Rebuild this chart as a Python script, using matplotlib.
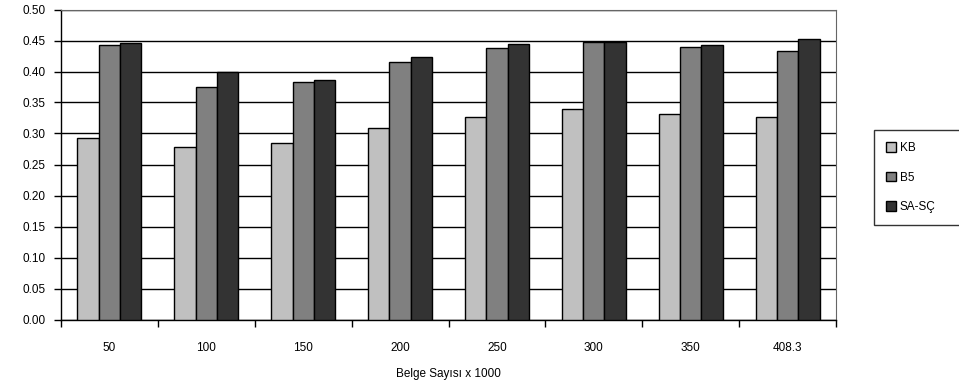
import numpy as np
import matplotlib.pyplot as plt
from matplotlib.patches import Patch

plt.rcParams['font.family'] = ['Liberation Sans', 'DejaVu Sans']

# belge sayisi (x1000) ve yontemlere gore sonuclar
belge_sayisi = ['50', '100', '150', '200', '250', '300', '350', '408.3']
kb = [0.293, 0.279, 0.285, 0.309, 0.326, 0.340, 0.331, 0.327]
b5 = [0.443, 0.375, 0.383, 0.416, 0.438, 0.447, 0.440, 0.433]
sa_sc = [0.446, 0.399, 0.386, 0.423, 0.445, 0.447, 0.443, 0.452]

seriler = ['KB', 'B5', 'SA-SÇ']
renkler = ['#c0c0c0', '#808080', '#333333']

fig = plt.figure(figsize=(9.59, 3.87), dpi=100)
ax = fig.add_axes([61 / 959, 67.5 / 387, 775 / 959, 310 / 387])

x = np.arange(len(belge_sayisi))
w = 0.22
for i, (vals, renk) in enumerate(zip([kb, b5, sa_sc], renkler)):
    ax.bar(x + (i - 1) * w, vals, w, color=renk, edgecolor='black',
           linewidth=1, zorder=3)

ax.set_xlim(-0.5, len(belge_sayisi) - 0.5)
ax.set_ylim(0, 0.5)
ax.set_yticks(np.arange(0, 0.51, 0.05))
ax.set_yticklabels([f'{v:.2f}' for v in np.arange(0, 0.51, 0.05)])
ax.yaxis.grid(True, color='black', linewidth=1, zorder=0)
ax.set_axisbelow(True)

# kategori sinirlarinda tik, etiketler ortada
ax.set_xticks(np.arange(-0.5, len(belge_sayisi)), minor=False)
ax.set_xticklabels([])
ax.set_xticks(x, minor=True)
ax.set_xticklabels(belge_sayisi, minor=True)
ax.tick_params(axis='x', which='minor', length=0, pad=16, labelsize=8.5)
ax.tick_params(axis='x', which='major', length=5, width=1, direction='out')
ax.tick_params(axis='y', length=5, width=1, direction='out', labelsize=8.5, pad=6)

ax.spines['top'].set_color('#666666')
ax.spines['right'].set_color('#666666')
for s in ['left', 'bottom']:
    ax.spines[s].set_color('black')
    ax.spines[s].set_linewidth(1)

ax.set_xlabel('Belge Sayısı x 1000', fontsize=8.5, labelpad=10)

handles = [Patch(facecolor=r, edgecolor='black', linewidth=1) for r in renkler]
leg = fig.legend(handles, seriler, loc='upper left', mode='expand',
                 bbox_to_anchor=(874 / 959, 1 - 223 / 387, 110 / 959, 93 / 387),
                 fontsize=8.5, frameon=True, fancybox=False,
                 handlelength=0.9, handleheight=0.9, handletextpad=0.3,
                 labelspacing=1.5, borderpad=1.0, borderaxespad=0)
leg.get_frame().set_edgecolor('black')
leg.get_frame().set_linewidth(1)

fig.savefig('out.png', dpi=100)
